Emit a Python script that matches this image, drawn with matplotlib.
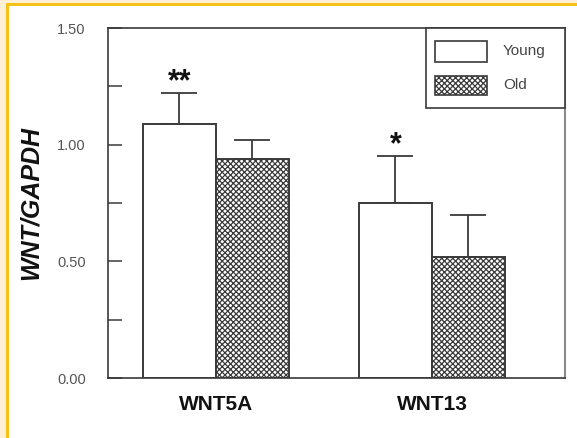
import numpy as np
import matplotlib
matplotlib.use("Agg")
import matplotlib.pyplot as plt
from matplotlib.patches import Rectangle

# expression ratios, mean and upper SEM
genes = ["WNT5A", "WNT13"]
young = [1.09, 0.75]
young_err = [0.13, 0.20]
old = [0.94, 0.52]
old_err = [0.08, 0.18]
stars = ["**", "*"]
series_names = ["Young", "Old"]
yticks_major = [0.0, 0.5, 1.0, 1.5]
yticks_minor = [0.25, 0.75, 1.25]

plt.rcParams["font.family"] = ["Liberation Sans", "DejaVu Sans"]
plt.rcParams["hatch.linewidth"] = 0.9

W, H = 577, 438
fig = plt.figure(figsize=(W / 100, H / 100), dpi=100)

# page frame strip on the left and top
cream, gold = "#fdf0d4", "#f5c21a"
fig.patches.append(Rectangle((0, 0), 6 / W, 1, transform=fig.transFigure,
                             facecolor=cream, edgecolor="none", zorder=0))
fig.patches.append(Rectangle((0, 1 - 3 / H), 1, 3 / H, transform=fig.transFigure,
                             facecolor=cream, edgecolor="none", zorder=0))
fig.patches.append(Rectangle((6 / W, 0), 3 / W, 1 - 3 / H, transform=fig.transFigure,
                             facecolor=gold, edgecolor="none", zorder=1))
fig.patches.append(Rectangle((6 / W, 1 - 6 / H), 1, 3 / H, transform=fig.transFigure,
                             facecolor=gold, edgecolor="none", zorder=1))

ax = fig.add_axes([108 / W, (H - 378) / H, 457 / W, 350 / H])

x = np.arange(len(genes))
w = 0.338
edge = "#3a3a3a"
hatch = "xxxxxx"

ax.bar(x - w / 2, young, w, facecolor="white", edgecolor=edge, linewidth=1.4, zorder=2)
ax.bar(x + w / 2, old, w, facecolor="white", edgecolor=edge, linewidth=1.4,
       hatch=hatch, zorder=2)

zeros = np.zeros(len(genes))
ax.errorbar(x - w / 2, young, yerr=[zeros, young_err], fmt="none", ecolor=edge,
            elinewidth=1.3, capsize=13, capthick=1.3, zorder=1)
ax.errorbar(x + w / 2, old, yerr=[zeros, old_err], fmt="none", ecolor=edge,
            elinewidth=1.3, capsize=13, capthick=1.3, zorder=1)

for xi, yv, e, s in zip(x - w / 2, young, young_err, stars):
    ax.text(xi, yv + e - 0.015, s, ha="center", va="bottom", fontsize=22,
            fontweight="bold", color="#111")

ax.set_xlim(-0.5, 1.616)
ax.set_ylim(0, 1.5)
ax.set_yticks(yticks_major)
ax.set_yticklabels([f"{v:.2f}" for v in yticks_major])
ax.set_yticks(yticks_minor, minor=True)
ax.tick_params(axis="y", which="both", direction="in", length=10, width=1.1,
               color=edge, labelsize=10.5, labelcolor="#555", pad=16)
ax.set_xticks(x)
ax.set_xticklabels(genes, fontsize=15, fontweight="bold", color="#111")
ax.tick_params(axis="x", length=0, pad=12)

ax.set_ylabel("WNT/GAPDH", fontsize=18, fontweight="bold", fontstyle="italic",
              color="#111")
ax.yaxis.set_label_coords(-0.142, 0.5)

for side in ["left", "top", "bottom"]:
    ax.spines[side].set_color(edge)
    ax.spines[side].set_linewidth(1.2)
ax.spines["right"].set_color("#8a8a8a")
ax.spines["right"].set_linewidth(1.5)

# key box in the upper right corner, in axes fractions
tr = ax.transAxes
ax.add_patch(Rectangle((0.696, 0.771), 0.304, 0.229, transform=tr, facecolor="white",
                       edgecolor=edge, linewidth=1.2, clip_on=False, zorder=5))
key_rows = [(0.9029, 0.060, None), (0.8086, 0.0543, hatch)]
for (y0, hgt, hp), name in zip(key_rows, series_names):
    ax.add_patch(Rectangle((0.7155, y0), 0.1138, hgt, transform=tr, facecolor="white",
                           edgecolor=edge, linewidth=1.2, hatch=hp, clip_on=False,
                           zorder=6))
    ax.text(0.8643, y0 + hgt / 2, name, transform=tr, ha="left", va="center",
            fontsize=11, color="#444", zorder=7)

fig.savefig("out.png", dpi=100)
